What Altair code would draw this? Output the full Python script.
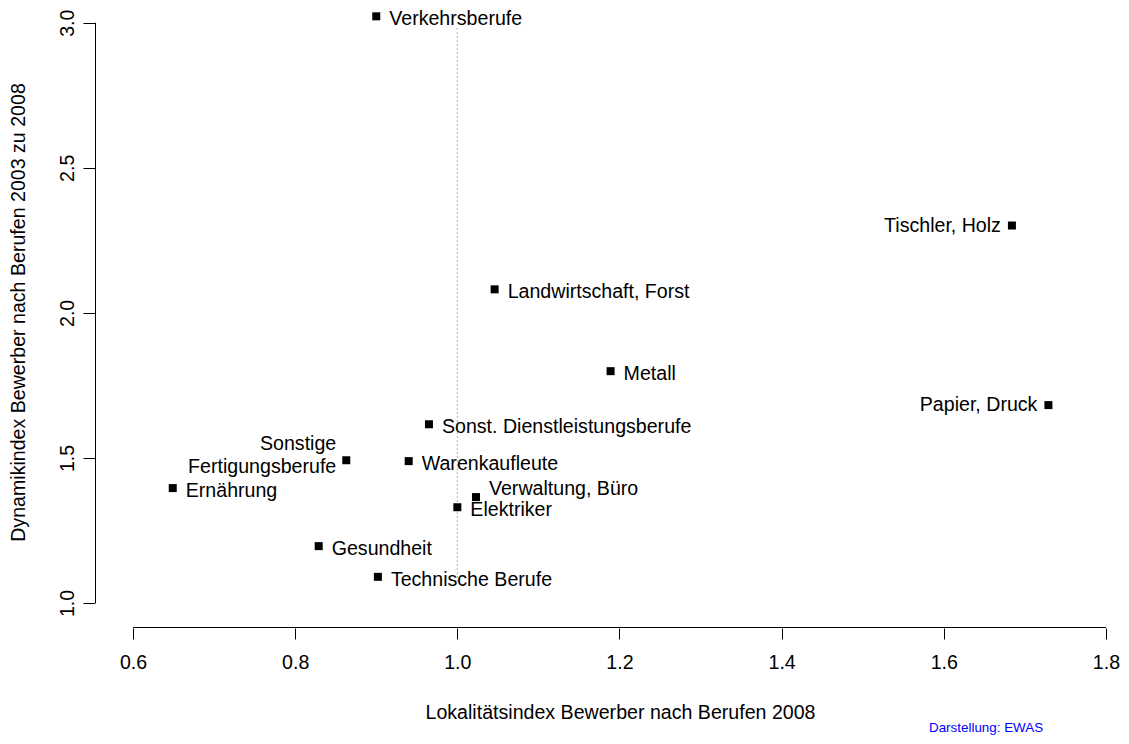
import altair as alt
import pandas as pd

# ---- data ----
berufe = ["Verkehrsberufe", "Tischler, Holz", "Landwirtschaft, Forst", "Metall",
          "Papier, Druck", "Sonst. Dienstleistungsberufe", "Sonstige\nFertigungsberufe",
          "Warenkaufleute", "Ernährung", "Verwaltung, Büro", "Elektriker",
          "Gesundheit", "Technische Berufe"]
lokalitaet = [0.900, 1.684, 1.046, 1.189, 1.729, 0.965, 0.863, 0.940, 0.649, 1.023, 1.000, 0.829, 0.902]
dynamik = [3.022, 2.301, 2.081, 1.799, 1.682, 1.616, 1.492, 1.489, 1.396, 1.365, 1.330, 1.196, 1.090]
label_pos = ["right", "left", "right", "right", "left", "right", "left-multi",
             "right", "right", "above", "right", "right", "right"]

x_ticks = [0.6, 0.8, 1.0, 1.2, 1.4, 1.6, 1.8]
y_ticks = [1.0, 1.5, 2.0, 2.5, 3.0]
ref_x = 1.0

df = pd.DataFrame({"beruf": berufe, "lok": lokalitaet, "dyn": dynamik, "pos": label_pos})

FONT = "Liberation Sans"
W, H = 1025, 616
XDOM = [0.5531, 1.8173]
YDOM = [0.9138, 3.0369]

xs = alt.Scale(domain=XDOM, nice=False, zero=False)
ys = alt.Scale(domain=YDOM, nice=False, zero=False)

x_axis = alt.Axis(values=x_ticks, format=".1f", domain=False, grid=False,
                  tickSize=11, tickColor="black", tickWidth=1,
                  labelFont=FONT, labelFontSize=19.6, labelColor="black",
                  labelPadding=14, labelBaseline="top",
                  title="Lokalitätsindex Bewerber nach Berufen 2008",
                  titleFont=FONT, titleFontSize=19.6, titleFontWeight="normal",
                  titleColor="black", titleX=525, titleY=84,
                  titleBaseline="middle", titleAnchor="middle", titleAlign="center")
y_axis = alt.Axis(values=y_ticks, format=".1f", domain=False, grid=False,
                  tickSize=12, tickColor="black", tickWidth=1,
                  labelFont=FONT, labelFontSize=19.6, labelColor="black",
                  labelAngle=270, labelAlign="center", labelBaseline="alphabetic",
                  labelPadding=10,
                  title="Dynamikindex Bewerber nach Berufen 2003 zu 2008",
                  titleFont=FONT, titleFontSize=19.6, titleFontWeight="normal",
                  titleColor="black", titleX=-77, titleY=300, titleAngle=270,
                  titleBaseline="middle", titleAlign="center")


def X(field):
    return alt.X(field, type="quantitative", scale=xs, axis=x_axis)


def Y(field):
    return alt.Y(field, type="quantitative", scale=ys, axis=y_axis)


base = alt.Chart(df)

points = base.mark_point(shape="square", filled=True, size=64, color="black", opacity=1).encode(
    x=X("lok"), y=Y("dyn")
)

offsets = {"right": (13, 3, "left"), "left": (-11, 0, "right"),
           "above": (13, -8, "left"), "left-multi": (-10, -16, "right")}
label_layers = []
for key, (dx, dy, al) in offsets.items():
    label_layers.append(
        base.transform_filter(alt.datum.pos == key).mark_text(
            align=al, baseline="middle", dx=dx, dy=dy, font=FONT, fontSize=19.6,
            color="black", lineBreak="\n", lineHeight=23
        ).encode(x=X("lok"), y=Y("dyn"), text="beruf:N")
    )

vline = alt.Chart(pd.DataFrame({"lok": [ref_x], "dyn": [2.98], "dyn2": [1.07]})).mark_rule(
    color="#666666", strokeDash=[1, 3], strokeWidth=1
).encode(x=X("lok"), y=Y("dyn"), y2="dyn2:Q")

xaxis_line = alt.Chart(pd.DataFrame({"lok": [x_ticks[0]], "lok2": [x_ticks[-1]]})).mark_rule(
    color="black", strokeWidth=1
).encode(x=X("lok"), x2="lok2:Q", y=alt.value(H - 0.5))

yaxis_line = alt.Chart(pd.DataFrame({"dyn": [y_ticks[0]], "dyn2": [y_ticks[-1]]})).mark_rule(
    color="black", strokeWidth=1
).encode(y=Y("dyn"), y2="dyn2:Q", x=alt.value(0.5))

credit = alt.Chart(pd.DataFrame({"t": ["Darstellung: EWAS"]})).mark_text(
    align="left", baseline="alphabetic", font=FONT, fontSize=13.4, color="#0000ff"
).encode(x=alt.value(834), y=alt.value(720), text="t:N")

chart = alt.layer(vline, xaxis_line, yaxis_line, points, *label_layers, credit).properties(
    width=W, height=H,
    autosize=alt.AutoSizeParams(type="none"),
    padding={"left": 87, "top": 4, "right": 0, "bottom": 108},
    background="white",
).configure_view(stroke=None)

chart.save("out.html", embed_options={"renderer": "svg", "actions": False})
